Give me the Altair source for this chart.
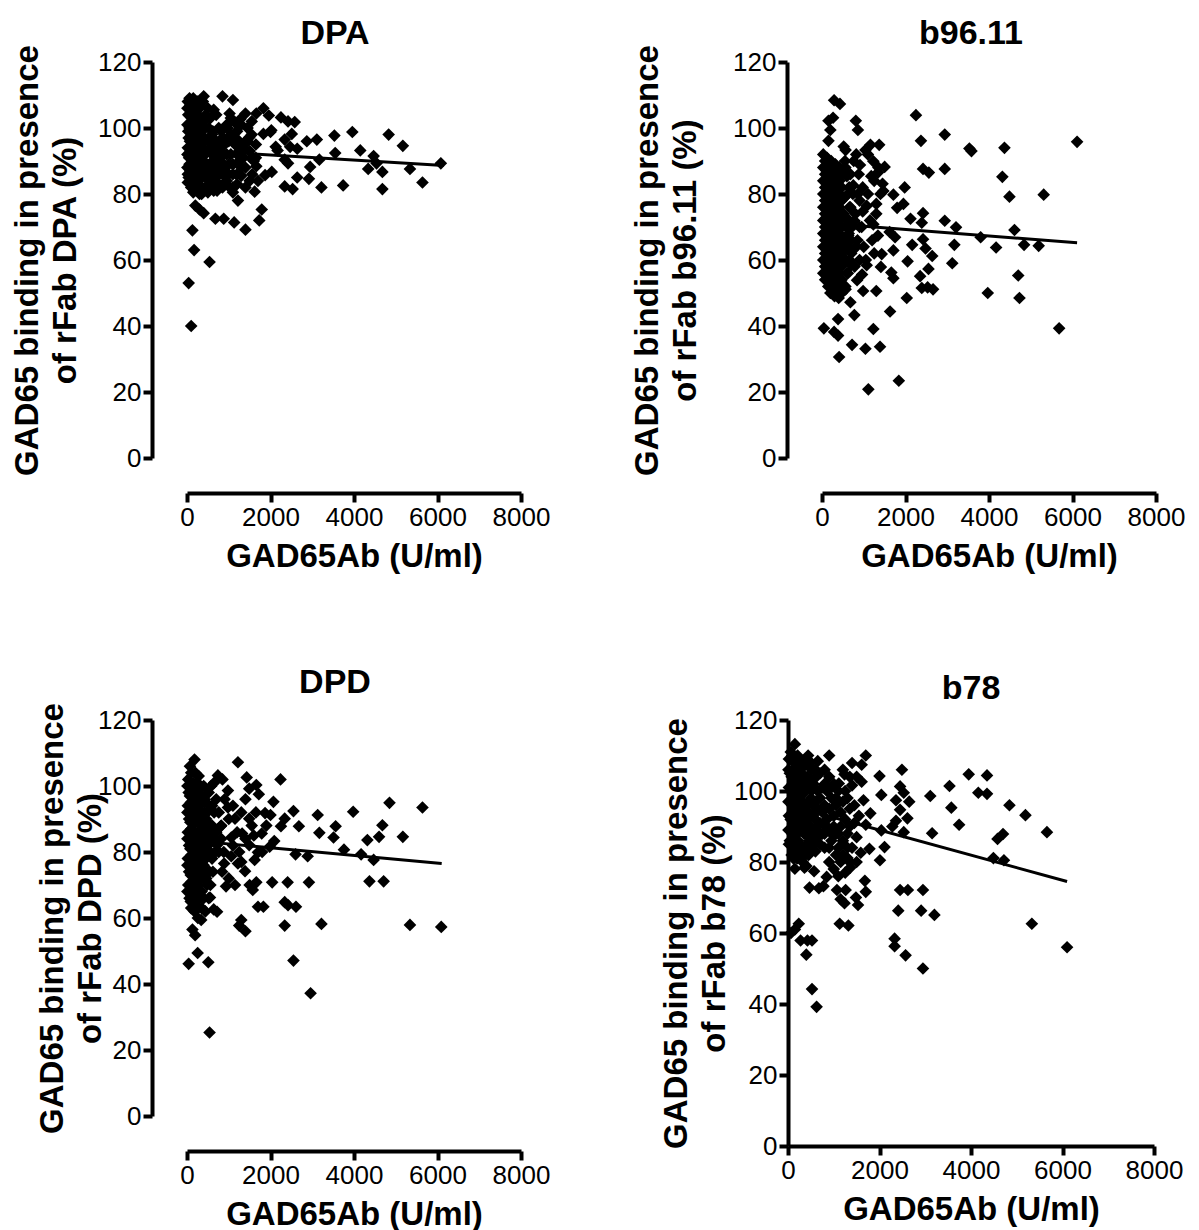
import altair as alt
import pandas as pd

FONT = "Liberation Sans"
X_TICKS = [0, 2000, 4000, 6000, 8000]
Y_TICKS = [0, 20, 40, 60, 80, 100, 120]
X_TITLE = "GAD65Ab (U/ml)"

# (GAD65Ab U/ml, % binding) for each competing rFab
dpa_points = [
    (20, 108), (80, 107), (150, 109), (250, 108), (30, 104), (100, 105), (180, 103), (300, 106),
    (10, 101), (60, 100), (140, 99), (220, 101), (320, 102), (40, 97), (120, 96), (200, 97), (280, 98),
    (20, 94), (90, 93), (170, 94), (250, 93), (330, 95), (50, 91), (130, 90), (210, 91), (300, 90),
    (10, 88), (80, 87), (160, 88), (240, 87), (320, 88), (40, 85), (120, 84), (200, 85), (280, 84),
    (20, 83.5), (100, 82), (180, 81), (260, 81.5), (350, 80),
    (60, 109), (200, 107), (340, 108), (500, 106), (700, 104),
    (10, 106), (120, 103), (260, 104), (400, 102), (560, 103), (760, 100),
    (30, 99), (170, 100), (300, 99), (440, 100), (620, 99), (820, 99),
    (70, 96), (230, 95), (380, 94), (520, 96), (700, 96), (900, 95),
    (10, 92), (150, 92), (270, 91), (430, 92), (600, 92), (780, 90), (950, 92),
    (60, 89), (190, 89), (350, 87), (500, 87), (660, 87), (850, 86), (1000, 89),
    (20, 86), (140, 86), (270, 86), (420, 86), (560, 85), (740, 83), (950, 84),
    (80, 84), (220, 83), (360, 82), (480, 82), (640, 81), (850, 82),
    (150, 80.5), (300, 80), (420, 81),
    (380, 108), (450, 104), (520, 100), (600, 98), (420, 97), (480, 93), (560, 94), (650, 95), (700, 92),
    (400, 90), (470, 88), (540, 89), (620, 90), (720, 88), (450, 85), (520, 83), (600, 86), (680, 84),
    (780, 86), (500, 80.5), (580, 82), (800, 90), (760, 94), (850, 97), (880, 92), (900, 88),
    (950, 101), (1000, 96), (1050, 92), (1100, 89), (1150, 95), (1200, 99), (1250, 93), (1300, 88),
    (1350, 91), (1400, 96), (1450, 100), (1500, 93), (1560, 86), (1600, 90), (1650, 95), (1700, 84),
    (1200, 83), (1300, 85.5), (1000, 86), (1100, 80.5), (900, 83), (1400, 82),
    (1050, 98), (1150, 97), (1250, 96), (1350, 94), (1450, 96), (1550, 98), (1100, 86), (1250, 90),
    (1400, 88), (1500, 84), (1650, 91), (1200, 92), (1050, 103), (1300, 101), (1550, 102),
    (40, 53), (100, 40), (130, 69), (170, 63), (540, 59.4), (200, 76.5), (300, 75.3), (400, 74.2),
    (680, 72.5), (880, 72.5), (1130, 71.4), (1400, 69.2), (1220, 78), (720, 81), (1730, 72), (1790, 75.3),
    (1620, 80.7), (2030, 86.7), (2340, 82.3), (2530, 81.5), (2640, 85), (2920, 84.6), (2950, 88.2),
    (3220, 82), (3740, 82.6), (3170, 90.4), (3110, 96.5), (2870, 96), (3530, 97.7), (3960, 98.8),
    (3550, 92.4), (4150, 93.2), (4340, 87.6), (4470, 91.5), (4540, 89.3), (4680, 86.7), (4680, 81.5),
    (4830, 98), (5170, 94.6), (5340, 87.6), (5640, 83.5), (6080, 89.3), (2580, 101.8), (2250, 103.2),
    (2420, 102), (1830, 106), (1960, 103.8), (1660, 104.4), (1400, 104.4), (1280, 102.7), (1020, 104.4),
    (850, 109.6), (1100, 108.5), (400, 109.6), (640, 105.5), (2000, 98.8), (2125, 94.3), (2340, 96.5),
    (2510, 98.2), (2470, 94.3), (2340, 90.4), (2420, 89.3), (2170, 93.2), (2640, 93.7), (2020, 99.3),
    (1830, 98.2), (1490, 97.1), (1530, 90.9), (1660, 88.4), (1870, 85.7), (1190, 85.9), (980, 82.6),
    (1100, 82), (770, 96), (980, 99.9), (1150, 101.6),
]

b96_points = [
    (290, 108.4), (430, 107.3), (155, 102.2), (265, 103.1), (200, 99.4), (155, 96.1), (520, 94.4),
    (565, 93.3), (810, 102.2), (860, 99.4), (1040, 93.3), (1160, 94.9), (1370, 94.9), (2250, 103.9),
    (2370, 96.1), (2940, 98), (2420, 87.6), (2560, 86.5), (2940, 87.6), (3530, 93.8), (3580, 93),
    (4370, 94), (4320, 85.2), (4490, 79.2), (5310, 79.8), (6110, 95.8), (1980, 82), (1950, 77),
    (1710, 79.8), (1800, 75.8), (2120, 72.5), (2420, 74.2), (2390, 71.3), (2940, 71.9), (3210, 69.9),
    (3170, 64.6), (3120, 59), (3800, 66.9), (4170, 63.8), (4610, 69.1), (4840, 64.6), (5190, 64.3),
    (4700, 55.3), (4730, 48.5), (3970, 50), (5680, 39.3), (2030, 48.5), (2050, 59.6), (2160, 64.6),
    (2420, 66.3), (2480, 63.5), (2640, 61.2), (2550, 57.3), (2350, 55.1), (2530, 51.7), (2660, 51.1),
    (2390, 51.5), (1630, 44.4), (1660, 56.2), (1710, 54.5), (1710, 62.9), (1750, 66.9), (1620, 68.5),
    (1430, 61.8), (1410, 57.9), (1300, 50.6), (985, 50.6), (1070, 58.4), (960, 55.6), (775, 43.3),
    (720, 34.3), (1040, 33.1), (1230, 39.1), (1390, 33.7), (1110, 20.8), (1840, 23.4), (410, 30.6),
    (385, 37.1), (290, 38.2), (45, 39.3), (385, 42.1), (680, 47.2), (340, 49.4), (565, 51.1),
    (1230, 70.8), (1340, 67.4), (1300, 77), (1450, 83.1), (1500, 88.2), (1340, 86.5), (1180, 85.4),
    (1230, 89.9), (1470, 80.9), (910, 88.8), (975, 82), (975, 74.7), (775, 71.9), (630, 67.4),
    (1070, 76.4), (750, 82.6), (595, 85.4), (520, 78.7), (500, 60.7), (700, 58.4), (840, 53.9),
    (30, 92), (120, 91), (220, 90), (320, 89), (420, 88),
    (30, 88), (120, 87), (220, 86), (320, 85), (420, 84),
    (30, 84), (120, 83), (220, 82), (320, 81), (420, 80),
    (30, 80), (120, 79), (220, 78), (320, 77), (420, 76),
    (30, 76), (120, 75), (220, 74), (320, 73), (420, 72),
    (30, 72), (120, 71), (220, 70), (320, 69), (420, 68),
    (30, 68), (120, 67), (220, 66), (320, 65), (420, 64),
    (30, 64), (120, 63), (220, 62), (320, 61), (420, 60),
    (30, 60), (120, 59), (220, 58), (320, 57), (420, 56),
    (30, 56), (120, 55), (220, 54), (320, 53), (420, 52),
    (75, 90), (170, 89), (270, 88), (370, 87), (470, 86),
    (75, 86), (170, 85), (270, 84), (370, 83), (470, 82),
    (75, 82), (170, 81), (270, 80), (370, 79), (470, 78),
    (75, 78), (170, 77), (270, 76), (370, 75), (470, 74),
    (75, 74), (170, 73), (270, 72), (370, 71), (470, 70),
    (75, 70), (170, 69), (270, 68), (370, 67), (470, 66),
    (75, 66), (170, 65), (270, 64), (370, 63), (470, 62),
    (75, 62), (170, 61), (270, 60), (370, 59), (470, 58),
    (75, 58), (170, 57), (270, 56), (370, 55), (470, 54),
    (75, 54), (170, 53), (270, 52), (370, 51), (470, 50),
    (200, 50), (300, 49), (400, 48.5), (150, 52),
    (550, 90), (600, 86), (650, 82), (520, 74), (580, 70), (620, 64), (560, 60), (600, 56), (540, 66),
    (680, 76), (700, 66), (650, 72), (820, 92), (880, 86), (900, 78), (950, 70), (1000, 64), (1050, 60),
    (850, 66), (900, 60), (1100, 80), (1150, 72), (1200, 66), (1250, 62), (1300, 74), (1350, 88),
    (1400, 80), (1100, 92), (1250, 84),
    (560, 88), (620, 80), (660, 76), (600, 72), (640, 68), (580, 64), (660, 60), (620, 56), (560, 52),
    (700, 62), (720, 70), (740, 80), (680, 86), (760, 90), (800, 74), (820, 64), (780, 58), (860, 80),
    (900, 70),
]

dpd_points = [
    (40, 46.1), (540, 25.3), (510, 46.6), (255, 49.4), (195, 54.8), (130, 56.5), (340, 59.4), (640, 62.6),
    (720, 61.9), (550, 66.2), (935, 69.6), (1300, 59.4), (1400, 56), (1250, 57.7), (1575, 68.5),
    (1660, 70.8), (1700, 63.4), (1830, 63.4), (2040, 70.8), (2410, 70.8), (2340, 57.7), (2340, 64.8),
    (2420, 63.9), (2610, 63.4), (2550, 47.1), (2960, 37.2), (2920, 70.8), (3220, 58.2), (2890, 78.7),
    (2600, 79.3), (2680, 87.8), (2550, 92.4), (2340, 90.1), (2250, 87.8), (2240, 102), (2070, 95.2),
    (2090, 83.3), (1980, 81.6), (1870, 91.8), (2000, 91.2), (1720, 97.5), (1490, 99.2), (1220, 107.2),
    (1430, 102.6), (1660, 100.3), (980, 98.6), (740, 103.2), (850, 102), (3130, 91.2), (3170, 85.8),
    (3560, 87.8), (3510, 84.4), (3760, 80.7), (3980, 92.2), (4170, 79.3), (4320, 83.6), (4370, 71.1),
    (4470, 77.6), (4600, 84.6), (4680, 88.1), (4710, 71.1), (4850, 94.9), (5170, 84.6), (5340, 57.9),
    (5640, 93.5), (6090, 57.3), (890, 76.5), (1060, 78.7), (1220, 76.5), (1390, 74.2), (1620, 77.6),
    (1700, 79.9), (1490, 82.1), (1320, 85.6), (1150, 90.1), (980, 93.5), (1490, 90.1), (1790, 85.6),
    (1060, 84.4), (810, 87.8), (720, 82.1),
    (30, 102), (100, 104), (180, 108), (250, 101), (40, 98), (120, 99), (200, 97), (300, 99),
    (20, 94), (90, 95), (170, 93), (260, 95), (350, 92), (50, 90), (130, 91), (210, 89), (290, 90),
    (380, 88), (20, 86), (100, 87), (180, 85), (260, 86), (340, 84), (450, 86), (50, 82), (130, 83),
    (210, 81), (290, 82), (380, 80), (500, 82), (20, 78), (100, 79), (180, 77), (260, 78), (340, 76),
    (450, 78), (50, 74), (130, 75), (210, 73), (290, 74), (400, 72), (30, 70), (110, 71), (190, 69),
    (270, 70), (350, 68), (60, 66), (140, 67), (220, 65), (300, 66), (100, 63), (180, 62), (260, 63),
    (420, 96), (480, 92), (550, 88), (520, 98), (600, 94), (560, 84), (600, 78), (540, 74), (480, 70),
    (580, 100), (650, 101), (700, 96), (760, 92), (820, 88), (700, 86), (760, 80), (820, 84), (880, 80),
    (840, 74),
    (70, 106), (200, 104), (150, 101), (280, 103), (350, 97), (10, 100), (70, 97), (230, 99), (400, 100),
    (10, 92), (130, 95), (210, 93), (300, 94), (420, 92), (540, 94),
    (80, 89), (170, 89), (250, 90), (330, 88), (460, 90), (600, 88), (650, 92),
    (10, 84), (140, 85), (220, 85), (300, 86), (400, 84), (520, 86), (640, 84),
    (80, 81), (160, 81), (250, 82), (330, 80), (440, 80), (560, 80), (680, 80),
    (10, 76), (140, 77), (220, 77), (300, 76), (400, 76), (500, 74), (620, 74),
    (90, 73), (170, 73), (250, 72), (340, 72), (460, 72), (560, 70),
    (10, 68), (150, 69), (230, 69), (310, 68), (400, 66), (520, 66),
    (90, 65), (170, 64), (260, 60), (350, 63), (440, 62),
    (900, 96), (1000, 90), (1100, 94), (1200, 86), (1300, 92), (1400, 96), (1100, 82), (1250, 80),
    (1400, 84), (1550, 88), (1650, 92), (1000, 72), (1150, 70), (1300, 77), (1500, 70), (1600, 85),
    (1800, 80), (1900, 88),
]

b78_points = [
    (150, 113.2), (65, 60), (150, 61), (235, 62.6), (275, 57.9), (425, 57.9), (525, 57.9), (400, 53.9),
    (525, 44.2), (625, 39.2), (470, 72.8), (675, 72.6), (775, 73.2), (845, 75.8), (570, 77.4),
    (360, 78.4), (150, 78.1), (275, 81.1), (400, 78.9), (1130, 62.6), (1320, 62.1), (1150, 69.5),
    (1235, 68.4), (1070, 72.1), (1260, 72.1), (1360, 78.4), (1300, 81.1), (1485, 70), (1530, 67.9),
    (1700, 71.6), (1680, 74.7), (1590, 82.6), (1780, 83.7), (2010, 80.5), (2110, 84.2), (2450, 72.1),
    (2620, 72.1), (2410, 66.3), (2330, 58.4), (2330, 56.3), (2570, 53.7), (2950, 72.1), (2910, 66.3),
    (3200, 65.1), (2950, 50), (5330, 62.6), (6100, 56), (5660, 88.4), (5190, 93.2), (4840, 96),
    (4700, 87.9), (4580, 86.5), (4490, 81.1), (4720, 80.5), (4350, 104.4), (4350, 99.2), (4160, 99.5),
    (3950, 104.7), (3740, 90.5), (3530, 101.4), (3570, 95.3), (3110, 98.6), (3150, 88.1), (2490, 106),
    (2450, 101.3), (2530, 99.5), (2650, 97), (2610, 92.3), (2360, 97.4), (2450, 94.7), (2530, 88.4),
    (2360, 91.6), (2280, 90), (2000, 104.2), (2040, 98.9), (2040, 88.9), (1700, 110), (1610, 107.4),
    (1400, 107.9), (1400, 101.6), (1610, 102.6), (1650, 97.4), (1800, 93.7), (1700, 90.5), (1235, 104.7),
    (1110, 102.1), (900, 110), (650, 108.4), (440, 110), (275, 107.9),
    (20, 109), (90, 110), (170, 108), (250, 109), (350, 107), (40, 105), (120, 106), (200, 104),
    (300, 105), (420, 104), (520, 106), (20, 101), (100, 102), (180, 100), (260, 101), (360, 100),
    (460, 101), (560, 102), (50, 97), (130, 98), (210, 96), (300, 97), (400, 96), (500, 98), (600, 97),
    (20, 93), (100, 94), (180, 92), (260, 93), (350, 92), (450, 94), (550, 93), (650, 95), (50, 89),
    (130, 90), (210, 88), (300, 89), (400, 88), (500, 90), (600, 89), (700, 91), (20, 85), (100, 86),
    (180, 84), (270, 85), (360, 84), (460, 86), (560, 85), (650, 87), (750, 88), (80, 82), (200, 81),
    (320, 80), (450, 82), (600, 83), (800, 96), (850, 92), (900, 89), (950, 86), (1000, 93), (1050, 88),
    (1100, 84), (1150, 90), (1200, 86), (1250, 92), (1300, 88), (1350, 95), (1400, 84), (1450, 91),
    (1500, 87), (850, 100), (950, 98), (1050, 96), (1100, 100), (1200, 97), (1300, 98), (900, 104),
    (1000, 102), (750, 101), (700, 105), (800, 84), (900, 80), (1000, 78), (1100, 76), (1200, 82),
    (1350, 80), (1250, 77),
    (60, 111), (130, 108), (210, 110), (300, 108), (400, 109), (500, 108), (600, 106),
    (10, 106), (80, 104), (160, 105), (240, 106), (330, 103), (470, 103), (620, 104), (800, 106),
    (60, 100), (140, 101), (220, 102), (310, 99), (410, 101), (510, 100), (650, 100), (800, 102), (950, 101),
    (10, 97), (90, 96), (170, 97), (250, 98), (350, 95), (450, 97), (550, 96), (700, 98), (900, 95),
    (60, 92), (140, 91), (220, 94), (300, 91), (400, 92), (500, 93), (600, 92), (750, 94), (850, 90),
    (1000, 90), (10, 89), (90, 88), (170, 88), (250, 89), (350, 88), (450, 90), (550, 88), (650, 90),
    (800, 88), (950, 88), (40, 86), (130, 84), (220, 86), (310, 84), (410, 84), (510, 84), (610, 86),
    (700, 85), (900, 84), (120, 81), (250, 82), (380, 82),
    (1050, 98), (1150, 94), (1250, 100), (1350, 90), (1450, 96), (1550, 93), (1100, 88), (1300, 84),
    (1500, 80), (1150, 80), (1050, 82), (1350, 104), (1500, 104), (1200, 106),
]

# Linear fits: (first x, fitted y), (last x, fitted y)
dpa_fit = [(10, 93.4), (6150, 88.6)]
b96_fit = [(20, 71.2), (6110, 65.2)]
dpd_fit = [(20, 83.6), (6100, 76.5)]
b78_fit = [(20, 96.0), (6100, 74.5)]


def panel(points, fit, name, width, height, offset, title_dx, title_dy, ytitle_pad):
    pts = pd.DataFrame(points, columns=["ab", "binding"])
    line = pd.DataFrame(fit, columns=["ab", "binding"])
    x = alt.X(
        "ab:Q",
        scale=alt.Scale(domain=[0, 8000], nice=False, zero=False),
        axis=alt.Axis(values=X_TICKS, title=X_TITLE, offset=offset, labelFlush=False,
                      labelOverlap=False, format="d"),
    )
    y = alt.Y(
        "binding:Q",
        scale=alt.Scale(domain=[0, 120], nice=False),
        axis=alt.Axis(values=Y_TICKS, title=["GAD65 binding in presence", f"of rFab {name} (%)"],
                      offset=offset, labelOverlap=False, format="d", titlePadding=ytitle_pad),
    )
    dots = alt.Chart(pts).mark_point(
        shape="diamond", filled=True, color="black", opacity=1, size=160
    ).encode(x=x, y=y)
    reg = alt.Chart(line).mark_line(color="black", strokeWidth=3).encode(x=x, y=y)
    return alt.layer(dots, reg).properties(
        width=width,
        height=height,
        title=alt.TitleParams(name, dx=title_dx, dy=title_dy, anchor="middle", frame="group"),
    )


p_dpa = panel(dpa_points, dpa_fit, "DPA", 334, 396, 35, -19, 10, 15)
p_b96 = panel(b96_points, b96_fit, "b96.11", 334, 396, 35, -18, 10, 30)
p_dpd = panel(dpd_points, dpd_fit, "DPD", 334, 396, 35, -19, 1, -10)
p_b78 = panel(b78_points, b78_fit, "b78", 366, 426, 0, 0, 3, 2)

top_row = alt.hconcat(p_dpa, p_b96, spacing=301, bounds="flush")
bottom_row = alt.hconcat(p_dpd, p_b78, spacing=267, bounds="flush")

# the flush rows report no height of their own, so the row gap includes the top row's plot height
chart = (
    alt.vconcat(top_row, bottom_row, spacing=396 + 262, bounds="flush")
    .properties(padding={"left": 11, "top": 16, "right": 0, "bottom": 0}, background="white")
    .configure_view(stroke=None)
    .configure_axis(
        grid=False,
        labelFont=FONT,
        titleFont=FONT,
        labelColor="black",
        titleColor="black",
        domainColor="black",
        tickColor="black",
        domainWidth=4,
        tickWidth=4,
        tickSize=9,
        labelFontSize=26,
        titleFontSize=33,
        titleFontWeight="bold",
        labelPadding=2,
    )
    .configure_axisY(titleLineHeight=38)
    .configure_axisX(titlePadding=10)
    .configure_title(font=FONT, fontSize=34, fontWeight="bold", color="black", offset=4)
)

chart.save("out.html", embed_options={"renderer": "svg", "actions": False})
